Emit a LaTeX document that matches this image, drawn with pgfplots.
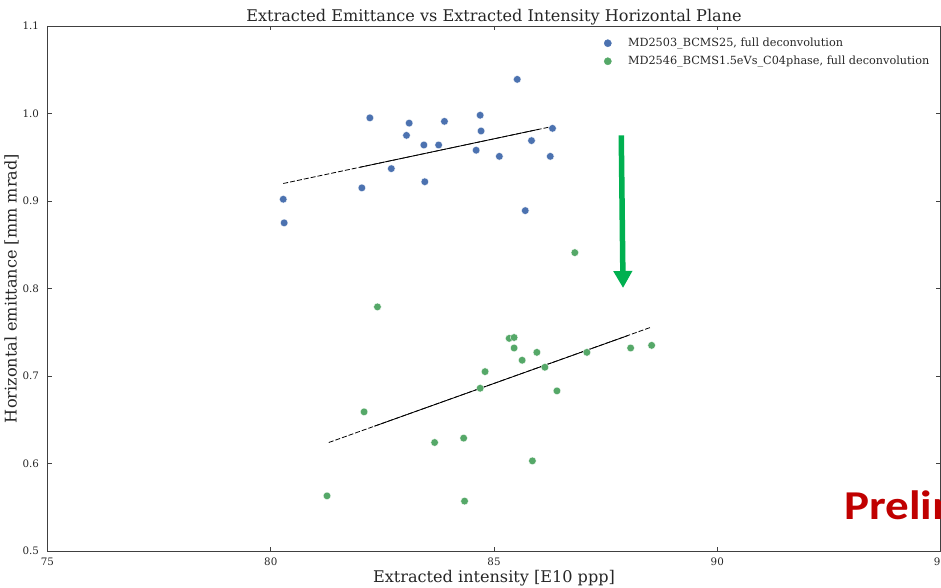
\documentclass[border=0pt]{standalone}
\usepackage{pgfplots}
\pgfplotsset{compat=1.18}
\usepackage{fontspec}
\setmainfont{DejaVu Serif}
\newfontfamily\prelimfont{Carlito}
\usetikzlibrary{arrows.meta}
\definecolor{cblue}{HTML}{4C72B0}
\definecolor{cgreen}{HTML}{55A868}
\definecolor{arrowgreen}{HTML}{00B050}
\definecolor{prelimred}{HTML}{C00000}
\definecolor{txt}{HTML}{262626}

\pgfplotstableread{
x y
80.28 0.902
80.30 0.875
82.22 0.995
82.04 0.915
82.70 0.937
83.04 0.975
83.10 0.989
83.43 0.964
83.45 0.922
83.76 0.964
83.89 0.991
84.60 0.958
84.69 0.998
84.71 0.980
85.12 0.951
85.52 1.039
85.70 0.889
85.84 0.969
86.26 0.951
86.31 0.983
}\blueA

\pgfplotstableread{
x y
86.81 0.841
82.39 0.779
85.34 0.743
85.45 0.744
85.45 0.732
85.96 0.727
85.63 0.718
87.08 0.727
88.06 0.732
88.53 0.735
86.14 0.710
84.80 0.705
84.69 0.686
86.41 0.683
82.09 0.659
83.67 0.624
84.32 0.629
85.86 0.603
81.26 0.563
84.34 0.557
}\greenB

\begin{document}
\begin{tikzpicture}
\begin{axis}[
  at={(0,0)}, anchor=south west,
  scale only axis, width=893pt, height=525pt,
  xmin=75, xmax=95, ymin=0.5, ymax=1.1,
  xtick={75,80,85,90,95},
  ytick={0.5,0.6,0.7,0.8,0.9,1.0,1.1},
  /pgf/number format/assume math mode=true,
  tick align=inside, major tick length=4.5pt,
  tick label style={font=\fontsize{10.3}{12}\selectfont, text=txt},
  yticklabel style={xshift=-5pt, /pgf/number format/.cd, fixed, fixed zerofill, precision=1},
  xticklabel style={yshift=-3pt},
  axis line style={black!75, line width=0.9pt},
  tick style={black!75, line width=0.6pt},
  title={Extracted Emittance vs Extracted Intensity Horizontal Plane},
  title style={font=\fontsize{16.1}{18}\selectfont, text=txt, at={(axis description cs:0.5,1)}, anchor=base, inner sep=0pt, yshift=-2pt},
  xlabel={Extracted intensity [E10 ppp]},
  xlabel style={font=\fontsize{16.1}{18}\selectfont, text=txt, at={(axis description cs:0.5,0)}, anchor=center, yshift=-27pt},
  ylabel={Horizontal emittance [mm mrad]},
  ylabel style={font=\fontsize{16.1}{18}\selectfont, text=txt, at={(axis description cs:-0.0403,0.5)}, anchor=center},
  legend style={draw=none, fill=none, at={(axis description cs:1,1)}, anchor=north east, xshift=-6pt, yshift=-8pt,
    font=\fontsize{11.25}{13}\selectfont, text=txt, row sep=4pt},
  legend cell align=left,
  clip=false,
]
\addlegendimage{legend image code/.code={\path (0pt,-2pt) (22pt,2pt); \fill[cblue] (4pt,0pt) circle (3.6pt);}}
\addlegendentry{MD2503\_BCMS25, full deconvolution}
\addlegendimage{legend image code/.code={\path (0pt,-2pt) (22pt,2pt); \fill[cgreen] (4pt,0pt) circle (3.6pt);}}
\addlegendentry{MD2546\_BCMS1.5eVs\_C04phase, full deconvolution}

\addplot[only marks, mark=*, mark size=3.8pt, mark options={fill=cblue, draw=white, line width=0.3pt}, forget plot] table {\blueA};
\addplot[only marks, mark=*, mark size=3.8pt, mark options={fill=cgreen, draw=white, line width=0.3pt}, forget plot] table {\greenB};

% fit lines
\addplot[black, line width=0.8pt, dash pattern=on 5pt off 2pt, forget plot] coordinates {(80.28,0.920) (86.29,0.985)};
\addplot[black, line width=0.8pt, forget plot] coordinates {(82.0,0.9386) (86.0,0.9819)};
\addplot[black, line width=0.8pt, dash pattern=on 5pt off 2pt, forget plot] coordinates {(81.30,0.624) (88.53,0.756)};
\addplot[black, line width=0.8pt, forget plot] coordinates {(82.32,0.6426) (88.0,0.7462)};

\draw[arrowgreen, line width=5.5pt, -{Triangle[width=18pt,length=17pt]}] (axis cs:87.85,0.975) -- (axis cs:87.89,0.8006);

\node[anchor=base west, inner sep=0pt, xscale=1.147, text=prelimred, font=\prelimfont\bfseries\fontsize{41}{45}\selectfont] at (axis cs:92.84,0.5362) {Preliminary};
\end{axis}
\pgfresetboundingbox
\useasboundingbox (-47.5pt,-37pt) rectangle (893.5pt,551pt);
\end{tikzpicture}
\end{document}
